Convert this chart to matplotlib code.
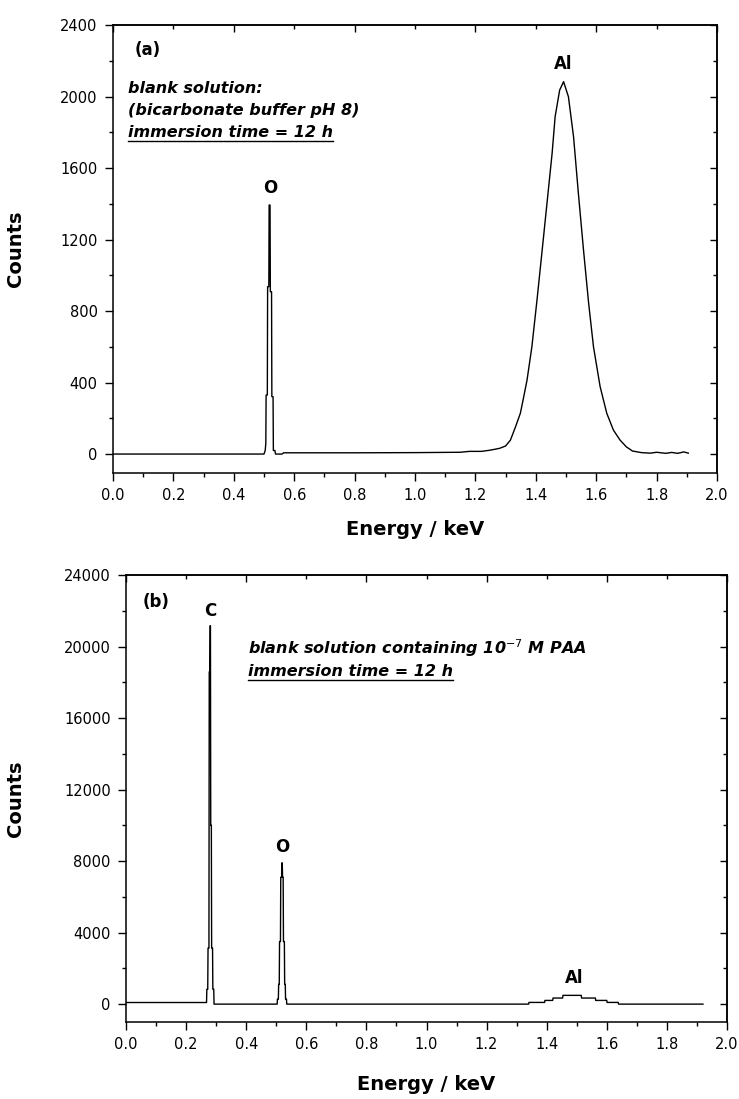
import matplotlib
matplotlib.use('Agg')
import matplotlib.pyplot as plt
from matplotlib.ticker import MultipleLocator
from matplotlib.lines import Line2D

# ---------------- data ----------------
energy_a = [0.00, 0.20, 0.40, 0.495,
            0.500, 0.504, 0.506, 0.507, 0.511, 0.512, 0.516, 0.517, 0.520, 0.521,
            0.525, 0.526, 0.530, 0.531, 0.536, 0.538,
            0.56, 0.565, 0.80, 1.00, 1.15, 1.18, 1.22, 1.25, 1.28, 1.30,
            1.316, 1.333, 1.349, 1.360, 1.371, 1.387, 1.404, 1.420, 1.437, 1.454,
            1.464, 1.479, 1.492, 1.508, 1.525, 1.541, 1.558, 1.575, 1.591, 1.613,
            1.635, 1.657, 1.679,
            1.70, 1.72, 1.75, 1.78, 1.80, 1.83, 1.85, 1.87, 1.89, 1.905]
counts_a = [0, 0, 0, 0,
            0, 20, 60, 330, 330, 936, 936, 1393, 1393, 908,
            908, 321, 321, 20, 20, 0,
            0, 7, 7, 8, 10, 15, 15, 22, 32, 45,
            78, 153, 229, 320, 414, 600, 862, 1123, 1402, 1682,
            1887, 2036, 2083, 1999, 1775, 1458, 1141, 843, 600, 377,
            228, 134, 78,
            40, 17, 8, 5, 10, 4, 9, 4, 12, 5]

energy_b = [0.00, 0.20, 0.268,
            0.269, 0.272, 0.273, 0.276, 0.277, 0.279, 0.280, 0.281, 0.282, 0.284,
            0.285, 0.288, 0.289, 0.292, 0.293,
            0.40, 0.503,
            0.504, 0.507, 0.508, 0.510, 0.511, 0.514, 0.515, 0.518, 0.519, 0.520,
            0.521, 0.523, 0.524, 0.527, 0.528, 0.530, 0.531, 0.534, 0.535,
            0.80, 1.20, 1.340,
            1.341, 1.393, 1.394, 1.420, 1.421, 1.453, 1.454, 1.515, 1.516, 1.562,
            1.563, 1.600, 1.601, 1.638, 1.639,
            1.80, 1.92]
counts_b = [90, 90, 90,
            830, 830, 3134, 3134, 18590, 18590, 21164, 21164, 10000, 10000,
            3134, 3134, 830, 830, 0,
            0, 0,
            276, 276, 1106, 1106, 3500, 3500, 7100, 7100, 7905, 7905,
            7100, 7100, 3500, 3500, 1106, 1106, 276, 276, 0,
            0, 0, 0,
            95, 95, 207, 207, 340, 340, 490, 490, 340, 340,
            207, 207, 95, 95, 0,
            0, 0]

x_ticks = [0.0, 0.2, 0.4, 0.6, 0.8, 1.0, 1.2, 1.4, 1.6, 1.8, 2.0]
y_ticks_a = [0, 400, 800, 1200, 1600, 2000, 2400]
y_ticks_b = [0, 4000, 8000, 12000, 16000, 20000, 24000]

peaks_a = ["O", "Al"]
peak_energy_a = [0.52, 1.49]
peak_label_y_a = [1490, 2180]
peaks_b = ["C", "O", "Al"]
peak_energy_b = [0.28, 0.52, 1.49]
peak_label_y_b = [22000, 8800, 1450]

W, H = 739, 1099
fig = plt.figure(figsize=(W / 100, H / 100), dpi=100)

tick_font = dict(family='DejaVu Sans', size=10.5)
label_font = dict(family='DejaVu Sans', size=14, weight='bold')
note_font = dict(family='DejaVu Sans', size=11.5, weight='bold', style='italic')
peak_font = dict(family='DejaVu Sans', size=12, weight='bold')


def make_axes(rect, xs, ys, ymin, yticks, ymaj, ymin_step, ylab_x, xlab_y):
    ax = fig.add_axes(rect)
    ax.plot(xs, ys, color='black', lw=1.0)
    ax.set_xlim(0, 2.0)
    ax.set_ylim(ymin, yticks[-1])
    ax.set_xticks(x_ticks)
    ax.set_xticklabels([f"{t:.1f}" for t in x_ticks], fontdict=tick_font)
    ax.set_yticks(yticks)
    ax.set_yticklabels([str(t) for t in yticks], fontdict=tick_font)
    ax.xaxis.set_minor_locator(MultipleLocator(0.1))
    ax.yaxis.set_minor_locator(MultipleLocator(ymin_step))
    ax.tick_params(which='major', direction='out', length=6, width=1.0, pad=5,
                   top=False, right=False)
    ax.tick_params(which='minor', direction='out', length=3, width=1.0,
                   top=False, right=False)
    for s in ax.spines.values():
        s.set_linewidth(1.1)
    # top / right axes with inward ticks
    sx = ax.secondary_xaxis('top')
    sx.xaxis.set_major_locator(MultipleLocator(0.4))
    sx.xaxis.set_minor_locator(MultipleLocator(0.2))
    sx.tick_params(which='major', direction='in', length=5, width=1.0, labeltop=False)
    sx.tick_params(which='minor', direction='in', length=3, width=1.0)
    sx.spines['top'].set_linewidth(1.1)
    sy = ax.secondary_yaxis('right')
    sy.yaxis.set_major_locator(MultipleLocator(ymaj))
    sy.yaxis.set_minor_locator(MultipleLocator(ymin_step))
    sy.tick_params(which='major', direction='in', length=5, width=1.0, labelright=False)
    sy.tick_params(which='minor', direction='in', length=3, width=1.0)
    sy.spines['right'].set_linewidth(1.1)
    ax.set_ylabel('Counts', fontdict=label_font)
    ax.yaxis.set_label_coords(ylab_x, 0.5)
    ax.set_xlabel('Energy / keV', fontdict=label_font)
    ax.xaxis.set_label_coords(0.5, xlab_y)
    return ax


ax_a = make_axes([113 / W, 1 - 473 / H, 604 / W, 448 / H], energy_a, counts_a,
                 -106, y_ticks_a, 400, 200, -0.146, -0.105)
ax_b = make_axes([126 / W, 1 - 1022 / H, 601 / W, 447 / H], energy_b, counts_b,
                 -1000, y_ticks_b, 4000, 2000, -0.168, -0.118)

for lab, x, y in zip(peaks_a, peak_energy_a, peak_label_y_a):
    ax_a.text(x, y, lab, ha='center', va='center', fontdict=peak_font)
for lab, x, y in zip(peaks_b, peak_energy_b, peak_label_y_b):
    ax_b.text(x, y, lab, ha='center', va='center', fontdict=peak_font)

ax_a.text(0.036, 0.944, '(a)', transform=ax_a.transAxes, ha='left', va='center',
          fontdict=peak_font)
ax_a.text(0.025, 0.859, 'blank solution:', transform=ax_a.transAxes,
          ha='left', va='center', fontdict=note_font)
ax_a.text(0.025, 0.810, '(bicarbonate buffer pH 8)', transform=ax_a.transAxes,
          ha='left', va='center', fontdict=note_font)
t_a = ax_a.text(0.025, 0.759, 'immersion time = 12 h', transform=ax_a.transAxes,
                ha='left', va='center', fontdict=note_font)

ax_b.text(0.203, 0.836, 'blank solution containing 10$^{-7}$ M PAA',
          transform=ax_b.transAxes, ha='left', va='center', fontdict=note_font)
t_b = ax_b.text(0.203, 0.784, 'immersion time = 12 h', transform=ax_b.transAxes,
                ha='left', va='center', fontdict=note_font)
ax_b.text(0.028, 0.94, '(b)', transform=ax_b.transAxes, ha='left', va='center',
          fontdict=peak_font)

# underline
fig.canvas.draw()
r = fig.canvas.get_renderer()
for t in (t_a, t_b):
    bb = t.get_window_extent(r)
    yline = bb.y0 - 1
    fig.add_artist(Line2D([bb.x0 / W, bb.x1 / W], [yline / H, yline / H],
                          transform=fig.transFigure, color='black', lw=1.0))

fig.savefig('out.png', dpi=100)
